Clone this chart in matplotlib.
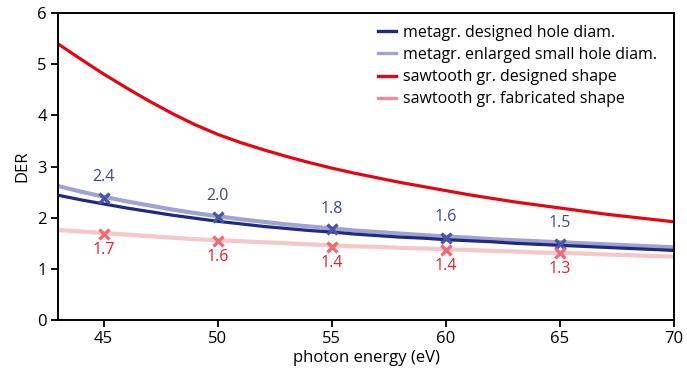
import numpy as np
import matplotlib
matplotlib.use("Agg")
import matplotlib.pyplot as plt

# photon energy grid (eV) for the DER curves
energy = np.arange(43, 71)

der_meta_designed = [2.44, 2.35, 2.27, 2.19, 2.12, 2.05, 1.99, 1.93, 1.88, 1.83,
                     1.79, 1.75, 1.72, 1.68, 1.65, 1.62, 1.60, 1.57, 1.55, 1.53,
                     1.50, 1.48, 1.46, 1.44, 1.42, 1.40, 1.38, 1.36]
der_meta_enlarged = [2.62, 2.51, 2.41, 2.32, 2.24, 2.16, 2.09, 2.03, 1.97, 1.92,
                     1.87, 1.83, 1.79, 1.75, 1.72, 1.69, 1.66, 1.63, 1.61, 1.58,
                     1.56, 1.54, 1.52, 1.50, 1.48, 1.46, 1.44, 1.42]
der_saw_designed = [5.40, 5.10, 4.81, 4.54, 4.28, 4.04, 3.82, 3.63, 3.47, 3.33,
                    3.20, 3.08, 2.97, 2.87, 2.78, 2.69, 2.61, 2.53, 2.45, 2.38,
                    2.31, 2.25, 2.19, 2.13, 2.07, 2.02, 1.97, 1.92]
der_saw_fabricated = [1.76, 1.73, 1.70, 1.67, 1.64, 1.61, 1.58, 1.56, 1.54, 1.52,
                      1.50, 1.48, 1.46, 1.44, 1.43, 1.41, 1.40, 1.38, 1.37, 1.35,
                      1.34, 1.32, 1.31, 1.30, 1.28, 1.27, 1.25, 1.24]

# measured points
meas_energy = [45, 50, 55, 60, 65]
meas_meta = [2.39, 2.02, 1.77, 1.61, 1.48]
meas_saw = [1.69, 1.55, 1.43, 1.37, 1.30]

labels = ["metagr. designed hole diam.",
          "metagr. enlarged small hole diam.",
          "sawtooth gr. designed shape",
          "sawtooth gr. fabricated shape"]

plt.rcParams["font.family"] = ["Open Sans", "DejaVu Sans"]

fig = plt.figure(figsize=(6.87, 3.76), dpi=100)
ax = fig.add_axes([0.0844, 0.149, 0.8966, 0.816])

c_navy = "#1e2a84"
c_lblue = "#9ea3cf"
c_red = "#e30613"
c_pink = "#f7c6c9"

ax.plot(energy, der_saw_fabricated, color=c_pink, lw=3.0, solid_capstyle="butt")
ax.plot(energy, der_meta_enlarged, color=c_lblue, lw=3.0, solid_capstyle="butt")
ax.plot(energy, der_meta_designed, color=c_navy, lw=2.3, solid_capstyle="butt")
ax.plot(energy, der_saw_designed, color=c_red, lw=2.3, solid_capstyle="butt")

ax.plot(meas_energy, meas_meta, ls="none", marker="x", ms=7.5, mew=2.4, color="#4a56a2")
ax.plot(meas_energy, meas_saw, ls="none", marker="x", ms=7.5, mew=2.4, color="#ec6b74")

for x, y in zip(meas_energy, meas_meta):
    ax.annotate(f"{y:.1f}", (x, y), xytext=(0, 15), textcoords="offset points",
                ha="center", va="center", color="#3a4795", fontsize=11.5)
for x, y in zip(meas_energy, meas_saw):
    ax.annotate(f"{y:.1f}", (x, y), xytext=(0, -11.5), textcoords="offset points",
                ha="center", va="center", color="#e3202c", fontsize=11.5)

# legend handles (legend shows the pink line a bit stronger)
handles = [plt.Line2D([], [], color=c, lw=2.4)
           for c in [c_navy, c_lblue, c_red, "#f08d94"]]
ax.legend(handles, labels, loc="upper left", bbox_to_anchor=(378 / 687, 1 - 25 / 376),
          bbox_transform=fig.transFigure, frameon=False, handlelength=1.1,
          handletextpad=0.45, labelspacing=0.38, borderpad=0, borderaxespad=0,
          fontsize=11.5)

ax.set_xlim(43, 70)
ax.set_ylim(0, 6)
ax.set_xticks([45, 50, 55, 60, 65, 70])
ax.set_yticks([0, 1, 2, 3, 4, 5, 6])
ax.tick_params(direction="out", length=5, width=1.3, labelsize=12, pad=3)
for s in ax.spines.values():
    s.set_linewidth(1.4)
ax.set_xlabel("photon energy (eV)", fontsize=12, labelpad=2)
ax.set_ylabel("DER", fontsize=12, labelpad=5)

fig.savefig("out.png", dpi=100)
